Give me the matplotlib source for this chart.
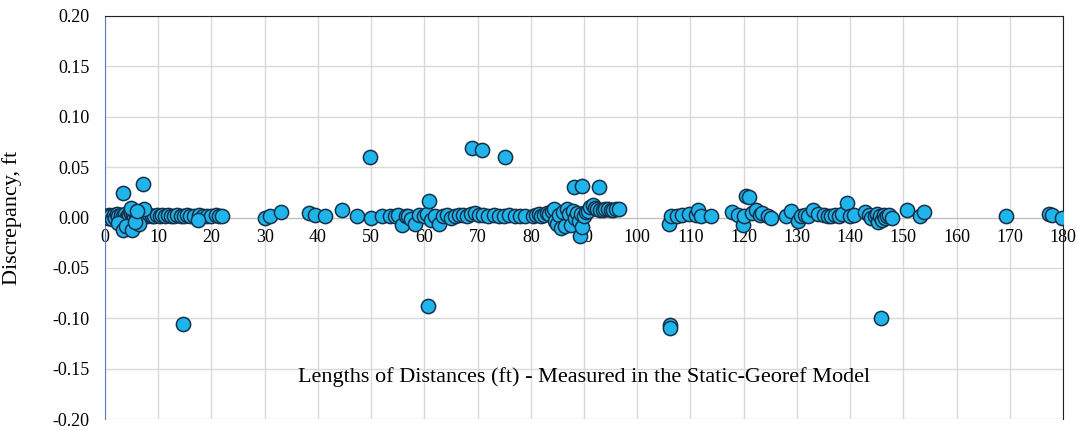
import numpy as np
import matplotlib
matplotlib.use('Agg')
import matplotlib.pyplot as plt

plt.rcParams['font.family'] = ['Liberation Serif', 'DejaVu Serif']

# measured length (ft) and discrepancy (ft)
length_0_22 = [0.2, 0.5, 0.8, 1.0, 1.3, 1.6, 1.9, 2.2, 2.5, 2.8, 3.1, 3.4, 3.7, 4.0, 4.3,
               4.6, 4.9, 5.2, 5.5, 5.8, 6.1, 6.4, 6.7, 7.0, 7.4, 7.8, 8.3, 8.8, 9.3, 9.8,
               10.3, 10.8, 11.3, 11.8, 12.4, 13.0, 13.6, 14.2, 14.8, 15.4, 16.0, 16.8,
               17.6, 18.4, 19.2, 20.0, 20.8, 21.5, 22.0,
               2.5, 3.3, 4.0, 5.1, 6.3, 5.7, 3.4, 7.1, 4.8, 7.3, 6.0, 17.5, 14.6]
disc_0_22 = [0.001, 0.000, 0.002, 0.001, -0.001, 0.002, 0.000, 0.003, 0.001, -0.002, 0.002,
             0.001, 0.003, 0.000, 0.002, 0.001, 0.004, 0.002, 0.000, 0.003, 0.001, 0.002,
             0.000, 0.003, 0.002, 0.001, 0.002, 0.001, 0.001, 0.002, 0.001, 0.002, 0.001,
             0.002, 0.001, 0.001, 0.002, 0.001, 0.001, 0.002, 0.001, 0.001, 0.002, 0.001,
             0.001, 0.001, 0.002, 0.001, 0.001,
             -0.005, -0.012, -0.008, -0.012, -0.006, -0.004, 0.024, 0.033, 0.009, 0.008,
             0.006, -0.002, -0.106]

length_30_80 = [30.0, 31.0, 33.0, 38.3, 39.5, 41.3, 44.5, 47.3,
                50.0, 52.0, 53.5, 54.5, 55.0, 55.8, 56.5, 57.0, 57.5, 58.2, 59.0, 60.0,
                60.5, 60.8, 61.3, 62.0, 62.8, 63.5, 64.3, 65.0, 65.8, 66.5, 67.2, 68.0,
                68.8, 69.5, 70.3, 71.0, 72.0, 73.0, 74.0, 75.0, 76.0, 77.0, 78.0, 79.0,
                49.8, 69.0, 70.8, 75.2, 60.6]
disc_30_80 = [0.000, 0.001, 0.005, 0.004, 0.002, 0.001, 0.007, 0.001,
              0.000, 0.001, 0.001, 0.001, 0.002, -0.007, 0.001, 0.001, -0.001, -0.006,
              0.002, 0.001, 0.003, 0.016, -0.002, 0.001, -0.006, 0.001, 0.002, 0.000,
              0.001, 0.002, 0.002, 0.001, 0.003, 0.004, 0.002, 0.002, 0.001, 0.002,
              0.001, 0.001, 0.002, 0.001, 0.001, 0.001,
              0.060, 0.069, 0.067, 0.060, -0.088]

length_80_97 = [80.5, 81.0, 81.5, 82.0, 82.5, 83.0, 83.5, 84.0, 84.3, 84.6, 85.0, 85.3,
                85.6, 86.0, 86.4, 86.8, 87.2, 87.6, 88.0, 88.3, 88.6, 89.0, 89.3, 89.4,
                89.7, 90.0, 90.3, 90.7, 91.2, 91.6, 92.0, 92.5, 93.0, 93.5, 94.0, 94.5,
                95.0, 95.5, 96.0, 96.5,
                88.2, 89.7, 92.8]
disc_80_97 = [0.001, 0.002, 0.003, 0.001, 0.002, 0.004, 0.003, 0.006, 0.008, -0.003,
              -0.006, 0.002, -0.010, 0.005, -0.008, 0.008, 0.003, -0.007, 0.006, 0.000,
              0.004, -0.003, -0.018, 0.003, -0.009, 0.001, 0.005, 0.006, 0.010, 0.012,
              0.009, 0.008, 0.007, 0.007, 0.008, 0.008, 0.007, 0.007, 0.008, 0.008,
              0.030, 0.031, 0.030]

length_106_180 = [106.0, 106.3, 107.5, 108.5, 109.8, 111.0, 111.5, 112.0, 113.8,
                  106.1, 106.2,
                  117.8, 119.0, 119.8, 120.0, 120.4, 121.0, 121.5, 122.3, 123.0, 123.5,
                  124.5, 125.2,
                  128.0, 128.8, 130.2, 130.8, 131.5, 132.0, 133.0, 134.0, 135.0, 135.8,
                  136.5, 137.2, 138.0, 138.5, 139.5, 140.0, 140.8, 142.8, 143.5, 144.0,
                  144.6, 145.0, 145.3, 145.6, 146.0, 146.3, 146.6, 147.0, 147.4, 147.8,
                  145.8,
                  150.6, 153.2, 153.8, 169.3, 177.3, 178.0, 179.8]
disc_106_180 = [-0.006, 0.001, 0.001, 0.002, 0.003, 0.002, 0.007, 0.001, 0.001,
                -0.107, -0.110,
                0.005, 0.002, -0.007, 0.001, 0.021, 0.020, 0.004, 0.007, 0.002, 0.004,
                0.001, 0.000,
                0.001, 0.006, -0.003, 0.001, 0.002, 0.001, 0.007, 0.003, 0.002, 0.001,
                0.001, 0.002, 0.001, 0.003, 0.014, 0.001, 0.002, 0.005, 0.002, 0.000,
                0.001, 0.003, -0.004, 0.001, -0.002, 0.002, 0.000, 0.001, 0.002, 0.000,
                -0.100,
                0.007, 0.001, 0.005, 0.001, 0.003, 0.002, 0.000]

y_ticks = [-0.20, -0.15, -0.10, -0.05, 0.00, 0.05, 0.10, 0.15, 0.20]
y_labels = ['-0.20', '-0.15', '-0.10', '-0.05', '0.00', '0.05', '0.10', '0.15', '0.20']

x = np.array(length_0_22 + length_30_80 + length_80_97 + length_106_180)
y = np.array(disc_0_22 + disc_30_80 + disc_80_97 + disc_106_180)

fig = plt.figure(figsize=(10.76, 4.30), dpi=100)
ax = fig.add_axes([105 / 1076, 11 / 430, 958 / 1076, 403 / 430])

ax.scatter(x, y, s=105, color='#1FB4EA', edgecolors='#163049', linewidths=1.1, zorder=3)

ax.set_xlim(0, 180)
ax.set_ylim(-0.20, 0.20)
ax.set_xticks(np.arange(0, 181, 10))
ax.set_yticks(y_ticks)
ax.set_yticklabels(y_labels)
ax.grid(True, color='#D9D9D9', linewidth=1.0, zorder=0)
ax.set_axisbelow(True)

ax.spines['bottom'].set_position(('data', 0))
ax.spines['bottom'].set_color('#BFBFBF')
ax.spines['left'].set_color('#4F81BD')
ax.spines['top'].set_color('#222222')
ax.spines['right'].set_color('#222222')
ax.tick_params(axis='x', length=0, pad=8, labelsize=13)
ax.tick_params(axis='y', length=0, pad=11, labelsize=13)

ax.set_ylabel('Discrepancy, ft', fontsize=16)
ax.yaxis.set_label_coords(-0.087, 0.5)
ax.text(0.5, 0.103, 'Lengths of Distances (ft) - Measured in the Static-Georef Model',
        transform=ax.transAxes, ha='center', va='center', fontsize=16)

plt.savefig('out.png', dpi=100)
